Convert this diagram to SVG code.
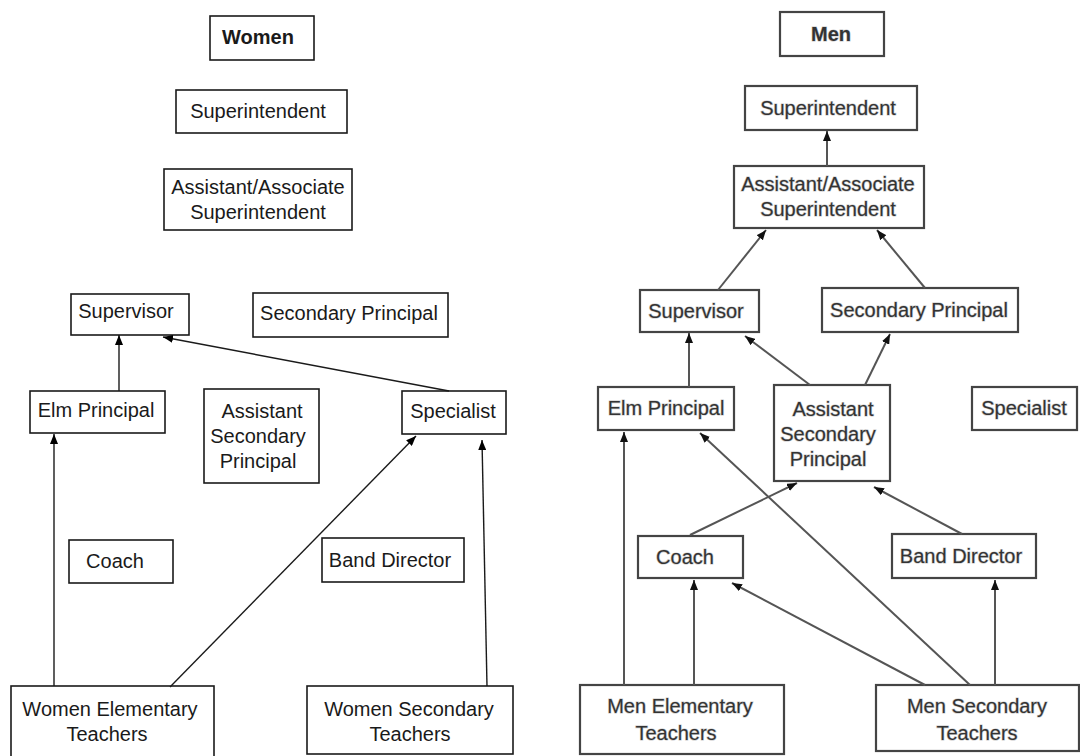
<svg xmlns="http://www.w3.org/2000/svg" width="1080" height="756" viewBox="0 0 1080 756">
<style>
  text { font-family: "Liberation Sans", Arial, sans-serif; font-size: 20px; text-anchor: middle; }
  .l rect { fill: #fff; stroke: #1a1a1a; stroke-width: 1.6; }
  .l text { fill: #1a1a1a; }
  .r rect { fill: #fff; stroke: #444; stroke-width: 2.2; }
  .r text { fill: #333; stroke: #c8c8c8; stroke-width: 1.2; paint-order: stroke; }
  .b { font-weight: bold; }
  .cl line { stroke: #1a1a1a; stroke-width: 1.4; marker-end: url(#ahL); }
  .cr line { stroke: #555; stroke-width: 2; marker-end: url(#ahR); }
</style>
<defs>
  <marker id="ahL" viewBox="0 0 10 8" refX="10" refY="4" markerWidth="10" markerHeight="8" orient="auto" markerUnits="userSpaceOnUse">
    <path d="M0,0 L10,4 L0,8 z" fill="#000"/>
  </marker>
  <marker id="ahR" viewBox="0 0 10 8" refX="10" refY="4" markerWidth="10" markerHeight="8" orient="auto" markerUnits="userSpaceOnUse">
    <path d="M0,0 L10,4 L0,8 z" fill="#111"/>
  </marker>
</defs>
<rect width="1080" height="756" fill="#fff"/>

<!-- Women side -->
<g class="l">
  <g id="w-title"><rect x="210" y="16" width="104" height="44"/><text class="b" x="258" y="44">Women</text></g>
  <g id="w-superintendent"><rect x="176" y="90" width="171" height="43"/><text x="258" y="118">Superintendent</text></g>
  <g id="w-assoc-super"><rect x="164" y="169" width="188" height="61"/><text x="258" y="194">Assistant/Associate</text><text x="258" y="219">Superintendent</text></g>
  <g id="w-supervisor"><rect x="71" y="294" width="118" height="41"/><text x="126" y="318">Supervisor</text></g>
  <g id="w-sec-principal"><rect x="253" y="293" width="195" height="44"/><text x="349" y="320">Secondary Principal</text></g>
  <g id="w-elm-principal"><rect x="30" y="391" width="135" height="42"/><text x="96" y="417">Elm Principal</text></g>
  <g id="w-asst-sec-principal"><rect x="204" y="389" width="115" height="94"/><text x="262" y="418">Assistant</text><text x="258" y="443">Secondary</text><text x="258" y="468">Principal</text></g>
  <g id="w-specialist"><rect x="402" y="391" width="104" height="43"/><text x="453" y="418">Specialist</text></g>
  <g id="w-coach"><rect x="69" y="540" width="104" height="43"/><text x="115" y="568">Coach</text></g>
  <g id="w-band-director"><rect x="322" y="538" width="142" height="44"/><text x="390" y="567">Band Director</text></g>
  <g id="w-elem-teachers"><rect x="11" y="686" width="203" height="80"/><text x="110" y="716">Women Elementary</text><text x="107" y="741">Teachers</text></g>
  <g id="w-sec-teachers"><rect x="307" y="686" width="206" height="68"/><text x="409" y="716">Women Secondary</text><text x="410" y="741">Teachers</text></g>
</g>

<!-- Men side -->
<g class="r">
  <g id="m-title"><rect x="780" y="12" width="104" height="44"/><text class="b" x="831" y="41">Men</text></g>
  <g id="m-superintendent"><rect x="745" y="86" width="172" height="44"/><text x="828" y="115">Superintendent</text></g>
  <g id="m-assoc-super"><rect x="734" y="166" width="190" height="62"/><text x="828" y="191">Assistant/Associate</text><text x="828" y="216">Superintendent</text></g>
  <g id="m-supervisor"><rect x="640" y="290" width="119" height="42"/><text x="696" y="318">Supervisor</text></g>
  <g id="m-sec-principal"><rect x="822" y="288" width="196" height="44"/><text x="919" y="317">Secondary Principal</text></g>
  <g id="m-elm-principal"><rect x="598" y="387" width="136" height="43"/><text x="666" y="415">Elm Principal</text></g>
  <g id="m-asst-sec-principal"><rect x="774" y="385" width="116" height="96"/><text x="833" y="416">Assistant</text><text x="828" y="441">Secondary</text><text x="828" y="466">Principal</text></g>
  <g id="m-specialist"><rect x="972" y="387" width="105" height="43"/><text x="1024" y="415">Specialist</text></g>
  <g id="m-coach"><rect x="638" y="536" width="105" height="42"/><text x="685" y="564">Coach</text></g>
  <g id="m-band-director"><rect x="892" y="534" width="144" height="44"/><text x="961" y="563">Band Director</text></g>
  <g id="m-elem-teachers"><rect x="580" y="685" width="204" height="69"/><text x="680" y="713">Men Elementary</text><text x="676" y="740">Teachers</text></g>
  <g id="m-sec-teachers"><rect x="876" y="685" width="203" height="66"/><text x="977" y="713">Men Secondary</text><text x="977" y="740">Teachers</text></g>
</g>

<!-- Connectors -->
<g id="connectors">
  <g class="cl">
    <line x1="119" y1="391" x2="119" y2="335"/>
    <line x1="449" y1="391" x2="163" y2="337"/>
    <line x1="54" y1="686" x2="54" y2="434"/>
    <line x1="170" y1="687" x2="416" y2="436"/>
    <line x1="487" y1="686" x2="482" y2="440"/>
  </g>
  <g class="cr">
    <line x1="827" y1="166" x2="827" y2="131"/>
    <line x1="718" y1="290" x2="766" y2="230"/>
    <line x1="925" y1="288" x2="877" y2="230"/>
    <line x1="689" y1="387" x2="689" y2="333"/>
    <line x1="810" y1="385" x2="745" y2="336"/>
    <line x1="865" y1="385" x2="890" y2="334"/>
    <line x1="690" y1="535" x2="797" y2="483"/>
    <line x1="962" y1="534" x2="874" y2="487"/>
    <line x1="624" y1="685" x2="624" y2="432"/>
    <line x1="694" y1="685" x2="694" y2="580"/>
    <line x1="925" y1="685" x2="732" y2="583"/>
    <line x1="970" y1="685" x2="700" y2="433"/>
    <line x1="995" y1="685" x2="995" y2="580"/>
  </g>
</g>
</svg>
